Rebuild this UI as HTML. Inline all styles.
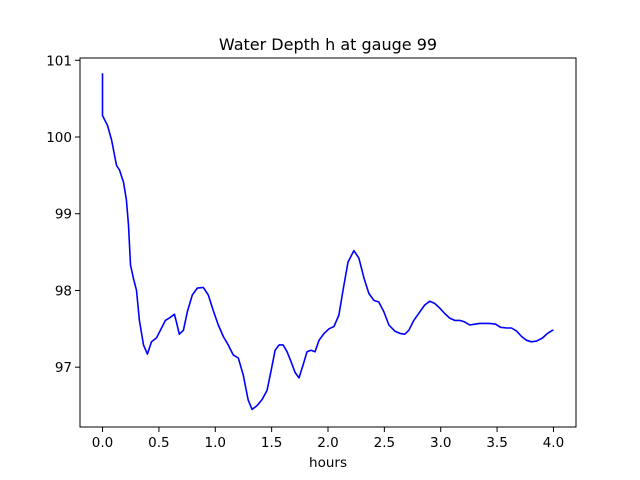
<!DOCTYPE html>
<html><head><meta charset="utf-8"><style>body{margin:0;background:#fff}svg{display:block;font-family:"DejaVu Sans","Liberation Sans",sans-serif}</style></head>
<body>
<svg width="640" height="480" id="chart">
<rect width="640" height="480" fill="#fff"/>
<text x="328" y="50" text-anchor="middle" font-size="16">Water Depth h at gauge 99</text>
<g id="ticks"></g>
<path id="line" fill="none" stroke="#0000ff" stroke-width="1.6" stroke-linejoin="round"/>
<rect x="80" y="58" width="496" height="369" fill="none" stroke="#000" stroke-width="1"/>
<text x="328" y="467" text-anchor="middle" font-size="13.5">hours</text>
</svg>
<script>
const hours=[0,0,0.044,0.080,0.124,0.150,0.186,0.212,0.230,0.248,0.274,0.301,0.327,0.363,0.398,0.434,0.478,0.513,0.558,0.602,0.637,0.655,0.681,0.717,0.752,0.796,0.841,0.894,0.938,0.982,1.027,1.071,1.115,1.159,1.204,1.248,1.292,1.327,1.372,1.416,1.460,1.496,1.531,1.566,1.602,1.637,1.673,1.708,1.743,1.779,1.814,1.850,1.885,1.920,1.965,2.009,2.053,2.097,2.133,2.177,2.230,2.274,2.319,2.363,2.407,2.451,2.496,2.540,2.593,2.637,2.681,2.717,2.761,2.814,2.858,2.903,2.947,2.991,3.035,3.080,3.124,3.168,3.212,3.257,3.301,3.345,3.389,3.434,3.487,3.531,3.584,3.628,3.673,3.717,3.761,3.805,3.850,3.903,3.947,3.991,4.0];
const depth=[100.83,100.28,100.15,99.96,99.63,99.57,99.41,99.18,98.85,98.33,98.16,98.0,97.61,97.29,97.17,97.33,97.38,97.48,97.61,97.65,97.69,97.59,97.43,97.48,97.72,97.94,98.03,98.04,97.94,97.74,97.55,97.40,97.29,97.16,97.12,96.90,96.57,96.45,96.50,96.58,96.70,96.96,97.22,97.29,97.29,97.20,97.07,96.93,96.86,97.03,97.20,97.22,97.20,97.35,97.44,97.50,97.53,97.68,98.0,98.37,98.52,98.42,98.16,97.96,97.87,97.85,97.72,97.55,97.47,97.44,97.43,97.48,97.61,97.72,97.81,97.86,97.83,97.77,97.70,97.64,97.61,97.61,97.59,97.55,97.56,97.57,97.57,97.57,97.56,97.52,97.51,97.51,97.47,97.40,97.35,97.33,97.34,97.38,97.44,97.48,97.48];
const xTicks=[0,0.5,1.0,1.5,2.0,2.5,3.0,3.5,4.0];
const yTicks=[97,98,99,100,101];
const X=v=>80+(v+0.2)/4.4*496;
const Y=v=>427-(v-96.22)/(101.03-96.22)*369;
const NS='http://www.w3.org/2000/svg';
const g=document.getElementById('ticks');
function el(t,a){const e=document.createElementNS(NS,t);for(const k in a)e.setAttribute(k,a[k]);g.appendChild(e);return e;}
xTicks.forEach(t=>{const x=X(t);
const l=el('line',{x1:x,x2:x,y1:427,y2:432,stroke:'#000'});


const s=el('text',{x:x,y:447,'text-anchor':'middle','font-size':'13.5'});s.textContent=t.toFixed(1);

});
yTicks.forEach(t=>{const y=Y(t);
const l=el('line',{x1:75,x2:80,y1:y,y2:y,stroke:'#000'});


const s=el('text',{x:72,y:y+5,'text-anchor':'end','font-size':'13.5'});s.textContent=t;

});
document.getElementById('line').setAttribute('d',hours.map((h,i)=>(i?'L':'M')+X(h).toFixed(1)+' '+Y(depth[i]).toFixed(1)).join(' '));
</script>
</body></html>
